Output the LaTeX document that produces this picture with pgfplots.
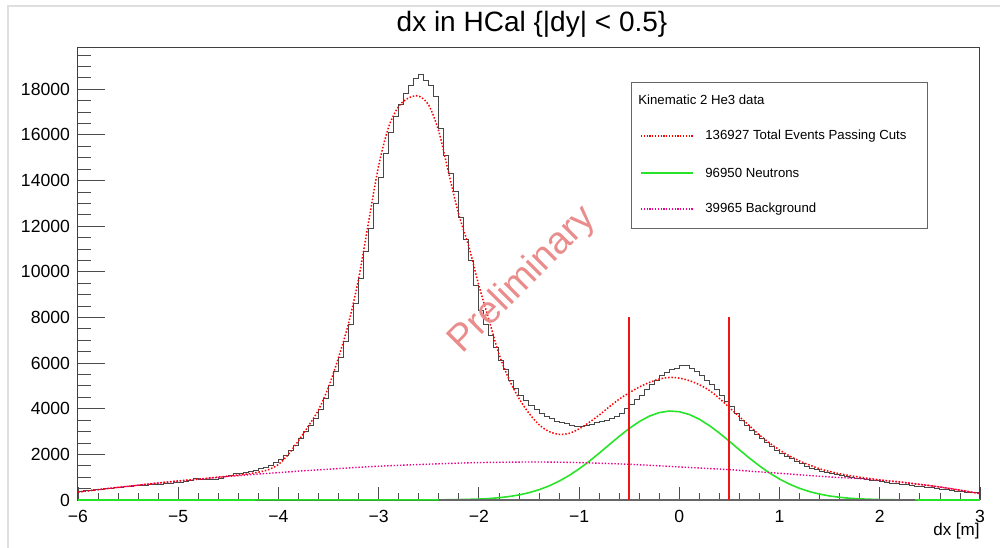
\documentclass[border=0pt]{standalone}
\usepackage{pgfplots}
\pgfplotsset{compat=1.18}
\usepackage{fontspec}
\setmainfont{Liberation Sans}
\definecolor{rootgreen}{RGB}{40,228,40}
\definecolor{prelim}{RGB}{234,140,140}
\definecolor{cutred}{RGB}{240,20,20}

% data histogram: left bin edges, bin width 0.05
\pgfplotstableread{
x y
-6.00 380
-5.95 400
-5.90 420
-5.85 440
-5.80 470
-5.75 490
-5.70 505
-5.65 530
-5.60 560
-5.55 575
-5.50 600
-5.45 615
-5.40 640
-5.35 655
-5.30 670
-5.25 690
-5.20 700
-5.15 720
-5.10 740
-5.05 755
-5.00 780
-4.95 800
-4.90 870
-4.85 935
-4.80 920
-4.75 905
-4.70 900
-4.65 890
-4.60 960
-4.55 1020
-4.50 1080
-4.45 1140
-4.40 1170
-4.35 1220
-4.30 1260
-4.25 1310
-4.20 1380
-4.15 1440
-4.10 1520
-4.05 1640
-4.00 1780
-3.95 1950
-3.90 2150
-3.85 2400
-3.80 2700
-3.75 3000
-3.70 3250
-3.65 3550
-3.60 3950
-3.55 4450
-3.50 5000
-3.45 5650
-3.40 6250
-3.35 6950
-3.30 7700
-3.25 8600
-3.20 9700
-3.15 10900
-3.10 11900
-3.05 13000
-3.00 14150
-2.95 15200
-2.90 16100
-2.85 16800
-2.80 17350
-2.75 17800
-2.70 18150
-2.65 18450
-2.60 18650
-2.55 18400
-2.50 18150
-2.45 17700
-2.40 16300
-2.35 15100
-2.30 14300
-2.25 13500
-2.20 12400
-2.15 11400
-2.10 10500
-2.05 9400
-2.00 8300
-1.95 7700
-1.90 7200
-1.85 6700
-1.80 6100
-1.75 5700
-1.70 5250
-1.65 4900
-1.60 4600
-1.55 4350
-1.50 4150
-1.45 3950
-1.40 3800
-1.35 3680
-1.30 3550
-1.25 3450
-1.20 3380
-1.15 3360
-1.10 3280
-1.05 3230
-1.00 3200
-0.95 3260
-0.90 3300
-0.85 3380
-0.80 3420
-0.75 3470
-0.70 3560
-0.65 3650
-0.60 3800
-0.55 4000
-0.50 4200
-0.45 4400
-0.40 4600
-0.35 4850
-0.30 5050
-0.25 5250
-0.20 5450
-0.15 5580
-0.10 5700
-0.05 5780
0.00 5880
0.05 5900
0.10 5780
0.15 5620
0.20 5450
0.25 5250
0.30 5050
0.35 4850
0.40 4580
0.45 4320
0.50 4080
0.55 3800
0.60 3500
0.65 3260
0.70 3050
0.75 2850
0.80 2680
0.85 2520
0.90 2330
0.95 2180
1.00 2040
1.05 1920
1.10 1810
1.15 1690
1.20 1580
1.25 1480
1.30 1400
1.35 1330
1.40 1270
1.45 1200
1.50 1150
1.55 1100
1.60 1060
1.65 1020
1.70 990
1.75 960
1.80 930
1.85 900
1.90 870
1.95 840
2.00 800
2.05 780
2.10 740
2.15 720
2.20 690
2.25 660
2.30 630
2.35 610
2.40 580
2.45 555
2.50 530
2.55 500
2.60 470
2.65 440
2.70 410
2.75 380
2.80 360
2.85 340
2.90 320
2.95 310
3.00 310
}\histdata

% total fit
\pgfplotstableread{
x y
-6.0 350
-5.9 400
-5.8 455
-5.7 505
-5.6 555
-5.5 600
-5.4 650
-5.3 700
-5.2 745
-5.1 790
-5.0 835
-4.9 875
-4.8 915
-4.7 960
-4.6 1005
-4.5 1050
-4.4 1095
-4.3 1150
-4.2 1220
-4.1 1330
-4.0 1560
-3.9 2000
-3.8 2600
-3.7 3250
-3.6 3950
-3.5 4950
-3.4 6250
-3.3 7750
-3.2 9700
-3.1 12200
-3.0 14650
-2.9 16350
-2.8 17250
-2.7 17620
-2.6 17700
-2.5 17300
-2.4 16150
-2.3 14300
-2.2 12500
-2.1 11100
-2.0 9400
-1.9 7900
-1.8 6400
-1.7 5300
-1.6 4450
-1.5 3800
-1.4 3300
-1.3 3000
-1.2 2880
-1.1 2920
-1.0 3120
-0.9 3400
-0.8 3720
-0.7 4080
-0.6 4420
-0.5 4700
-0.4 4950
-0.3 5150
-0.2 5300
-0.1 5370
0.0 5340
0.1 5230
0.2 5050
0.3 4800
0.4 4450
0.5 4050
0.6 3650
0.7 3250
0.8 2850
0.9 2500
1.0 2190
1.1 1930
1.2 1710
1.3 1530
1.4 1370
1.5 1250
1.6 1150
1.7 1070
1.8 1000
1.9 940
2.0 880
2.1 830
2.2 790
2.3 730
2.4 680
2.5 630
2.6 570
2.7 500
2.8 430
2.9 360
3.0 280
}\fitdata

% neutron peak
\pgfplotstableread{
x y
-6.0 0
-2.4 5
-2.2 18
-2.0 40
-1.9 64
-1.8 100
-1.7 151
-1.6 222
-1.5 320
-1.4 450
-1.3 616
-1.2 824
-1.1 1074
-1.0 1365
-0.9 1694
-0.8 2051
-0.7 2422
-0.6 2789
-0.5 3134
-0.4 3435
-0.3 3673
-0.2 3831
-0.1 3899
0.0 3869
0.1 3746
0.2 3539
0.3 3260
0.4 2931
0.5 2570
0.6 2198
0.7 1834
0.8 1493
0.9 1186
1.0 918
1.1 694
1.2 511
1.3 368
1.4 258
1.5 177
1.6 118
1.7 77
1.8 49
2.0 18
2.2 6
2.4 2
3.0 0
}\neutdata

% background
\pgfplotstableread{
x y
-6.00 350
-5.75 480
-5.50 600
-5.25 720
-5.00 830
-4.75 930
-4.50 1030
-4.25 1120
-4.00 1200
-3.75 1280
-3.50 1350
-3.25 1420
-3.00 1480
-2.75 1530
-2.50 1570
-2.25 1610
-2.00 1640
-1.75 1655
-1.50 1665
-1.25 1660
-1.00 1640
-0.75 1605
-0.50 1565
-0.25 1510
0.00 1450
0.25 1390
0.50 1330
0.75 1250
1.00 1170
1.25 1090
1.50 1010
1.75 950
2.00 870
2.25 770
2.50 630
2.75 470
3.00 280
}\bgdata

\begin{document}
\begin{tikzpicture}
\path[use as bounding box] (-39pt,-23.5pt) rectangle (461pt,250pt);
\draw[gray!25, line width=1pt] (-35pt,-24pt) -- (-35pt,247pt) -- (462pt,247pt);
\begin{axis}[
  at={(0,0)}, anchor=south west,
  scale only axis, width=451pt, height=226.5pt,
  xmin=-6, xmax=3, ymin=0, ymax=19850,
  scaled y ticks=false, scaled x ticks=false,
  axis line style={black!75, line width=0.5pt},
  tick align=inside, xtick pos=bottom, ytick pos=left,
  xtick={-6,-5,...,3},
  xticklabels={−6,−5,−4,−3,−2,−1,0,1,2,3},
  minor xtick={-6,-5.8,...,3},
  ytick={0,2000,...,18000},
  yticklabels={0,2000,4000,6000,8000,10000,12000,14000,16000,18000},
  minor ytick={0,500,...,19500},
  major tick length=13.5pt, minor tick length=6.5pt,
  xtick style={/pgfplots/major tick length=6.5pt, /pgfplots/minor tick length=3.3pt, black!70, line width=0.4pt},
  ytick style={black!70, line width=0.4pt},
  ticklabel style={font=\fontsize{8.8}{10}\selectfont},
  xticklabel style={yshift=-1.5pt},
  yticklabel style={xshift=-0.5pt},
]
\addplot[rootgreen, line width=0.8pt] table {\neutdata};
\addplot[black!60, line width=0.7pt] coordinates {(-2.4,0) (2.35,0)};
\addplot[const plot, black!72, line width=0.5pt] table {\histdata};
\addplot[magenta, line width=0.7pt, dash pattern=on 0.7pt off 0.9pt, smooth] table {\bgdata};
\addplot[red, line width=0.75pt, dash pattern=on 0.75pt off 0.9pt, smooth] table {\fitdata};
% cut lines at dx = -0.5 and 0.5 (filled thin bars)
\addplot[fill=cutred, draw=none] coordinates {(-0.5105,8000) (-0.4895,8000)} \closedcycle;
\addplot[fill=cutred, draw=none] coordinates {(0.4895,8000) (0.5105,8000)} \closedcycle;
\end{axis}
\node[font=\fontsize{14}{16}\selectfont] at (227pt,238pt) {dx in HCal \{|dy| < 0.5\}};
\node[anchor=east, font=\fontsize{8.5}{10}\selectfont, inner sep=0pt] at (451pt,-15.5pt) {dx [m]};
% legend
\draw[black!60, line width=0.4pt] (276.5pt,136pt) rectangle (424.5pt,209pt);
\begin{scope}[every node/.style={anchor=west, inner sep=0pt, font=\fontsize{6.6}{8}\selectfont}]
\node at (280pt,200pt) {Kinematic 2 He3 data};
\draw[red, line width=0.6pt, dash pattern=on 0.6pt off 0.8pt] (281.5pt,182pt) -- (307.5pt,182pt);
\node at (313.5pt,182pt) {136927 Total Events Passing Cuts};
\draw[rootgreen, line width=0.7pt] (281.5pt,163.5pt) -- (307.5pt,163.5pt);
\node at (313.5pt,163.5pt) {96950 Neutrons};
\draw[magenta, line width=0.6pt, dash pattern=on 0.6pt off 0.8pt] (281.5pt,145.5pt) -- (307.5pt,145.5pt);
\node at (313.5pt,145.5pt) {39965 Background};
\end{scope}
\node[rotate=45, text=prelim, font=\fontsize{19}{20}\selectfont] at (222.5pt,110pt) {Preliminary};
\end{tikzpicture}
\end{document}
